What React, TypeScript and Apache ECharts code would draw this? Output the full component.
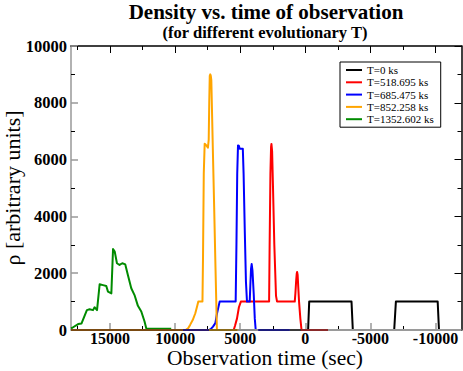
import React, { useEffect, useRef } from "react";
import * as echarts from "echarts";

const FONT = '"Liberation Serif", "Times New Roman", Times, serif';

const seriesNames = ["T=0 ks", "T=518.695 ks", "T=685.475 ks", "T=852.258 ks", "T=1352.602 ks"];
const seriesColors = ["#000000", "#ff0000", "#0000ff", "#ffa500", "#008b00"];

// Observation time (sec) and density for each evolutionary T
const t0Time = [1200, 300, -215, -300, -3550, -3650, -6830, -6960, -10170, -10270, -12000];
const t0Rho = [0, 0, 0, 1000, 1000, 0, 0, 1000, 1000, 0, 0];

const t518Time = [5800, 5500, 5400, 5250, 5100, 4950, 2780, 2740, 2680, 2630, 2600, 2550, 2480, 2380, 2250, 2170, 810, 760, 700, 660, 630, 590, 540, 480, 380, 290, -1750];
const t518Rho = [0, 0, 150, 400, 800, 1000, 1000, 3000, 5500, 6450, 6550, 6300, 5000, 3000, 1200, 1000, 1000, 1300, 1750, 1980, 2040, 1950, 1500, 1000, 400, 0, 0];

const t685Time = [9300, 7400, 7250, 7090, 6910, 6780, 6580, 5350, 5290, 5230, 5170, 5100, 5040, 4800, 4740, 4650, 4560, 4480, 4270, 4220, 4170, 4120, 4060, 3960, 3880, 3810, 1200];
const t685Rho = [0, 0, 40, 120, 240, 590, 1000, 1000, 3000, 5500, 6500, 6480, 6380, 6380, 5500, 3500, 1700, 1000, 1000, 1600, 2150, 2320, 2100, 1250, 400, 0, 0];

const t852Time = [9600, 9200, 9000, 8850, 8650, 8450, 8300, 8220, 7900, 7860, 7800, 7730, 7600, 7480, 7420, 7380, 7340, 7300, 7260, 7220, 7100, 7000, 6900, 6790, 3700];
const t852Rho = [0, 0, 60, 180, 350, 590, 850, 1000, 1000, 2500, 5500, 6560, 6500, 6420, 6700, 8000, 8950, 9000, 8950, 8800, 6300, 4300, 2200, 0, 0];

const t1352Time = [18000, 17900, 17450, 17190, 16780, 16570, 16310, 16190, 16000, 15800, 15540, 15290, 15160, 14900, 14770, 14640, 14470, 14270, 14060, 13830, 13630, 13370, 13120, 12860, 12600, 12350, 12220, 12170, 10300];
const t1352Rho = [60, 80, 210, 230, 700, 730, 700, 800, 700, 1610, 1580, 1550, 1350, 1290, 2850, 2760, 2350, 2290, 2350, 2310, 1940, 1470, 1230, 850, 650, 300, 60, 40, 40];

const seriesTimes = [t0Time, t518Time, t685Time, t852Time, t1352Time];
const seriesRhos = [t0Rho, t518Rho, t685Rho, t852Rho, t1352Rho];

const xMin = -12000;
const xMax = 18000;
const yMin = 0;
const yMax = 10000;
const yStep = 2000;
const xMajorTicks = [15000, 10000, 5000, 0, -5000, -10000];
const xMinorTicks = [17500, 12500, 7500, 2500, -2500, -7500];

// where the colour of the overlapping zero-level lines changes along the bottom axis
const baselineBreaks = [18000, 9400, 7400, 5200, 3600, 1200, 300, -1750, -12000];
const baselineColors = ["#7a4a12", "#2c1a6e", "#8a6a1a", "#8c8c8c", "#1c1c7c", "#3a3a3a", "#8a2a2a", "#9a9a9a"];

const titleText = "Density vs. time of observation";
const subtitleText = "(for different evolutionary T)";
const xName = "Observation time (sec)";
const yName = "ρ [arbitrary units]";

function buildOption() {
  const mainSeries = seriesNames.map((name, i) => ({
    name,
    type: "line",
    xAxisIndex: 0,
    yAxisIndex: 0,
    data: seriesTimes[i].map((t, j) => [t, seriesRhos[i][j]]),
    symbol: "none",
    showSymbol: false,
    lineStyle: { color: seriesColors[i], width: 2, join: "round" },
    itemStyle: { color: seriesColors[i] },
    z: 3,
    silent: true,
  }));
  const baseSeries = baselineColors.map((c, i) => ({
    name: "base" + i,
    type: "line",
    xAxisIndex: 0,
    yAxisIndex: 0,
    data: [
      [baselineBreaks[i], 0],
      [baselineBreaks[i + 1], 0],
    ],
    symbol: "none",
    lineStyle: { color: c, width: 2 },
    z: 4,
    silent: true,
  }));

  const xCommon = {
    type: "value",
    min: xMin,
    max: xMax,
    inverse: true,
    splitLine: { show: false },
  };
  const yCommon = {
    type: "value",
    min: yMin,
    max: yMax,
    interval: yStep,
    splitLine: { show: false },
  };

  return {
    animation: false,
    backgroundColor: "#ffffff",
    grid: { left: 71, right: 1.5, top: 46, bottom: 41, containLabel: false },
    xAxis: [
      {
        ...xCommon,
        position: "bottom",
        axisLine: { show: true, onZero: false, lineStyle: { color: "#999999", width: 1.5 } },
        axisTick: { show: true, inside: true, length: 7, customValues: xMajorTicks, lineStyle: { color: "#999999", width: 1.5 } },
        axisLabel: {
          show: true,
          customValues: xMajorTicks,
          margin: 1.5,
          color: "#000",
          fontFamily: FONT,
          fontWeight: "bold",
          fontSize: 16,
          lineHeight: 13,
          formatter: (v: number) => String(v),
        },
      },
      {
        ...xCommon,
        position: "bottom",
        axisLine: { show: false, onZero: false },
        axisTick: { show: true, inside: true, length: 4, customValues: xMinorTicks, lineStyle: { color: "#000", width: 1 } },
        axisLabel: { show: false },
      },
      {
        ...xCommon,
        position: "top",
        axisLine: { show: true, onZero: false, lineStyle: { color: "#000", width: 1.5 } },
        axisTick: { show: true, inside: true, length: 7, customValues: xMajorTicks, lineStyle: { color: "#000", width: 1 } },
        axisLabel: { show: false },
      },
      {
        ...xCommon,
        position: "top",
        axisLine: { show: false, onZero: false },
        axisTick: { show: true, inside: true, length: 4, customValues: xMinorTicks, lineStyle: { color: "#000", width: 1 } },
        axisLabel: { show: false },
      },
    ],
    yAxis: [
      {
        ...yCommon,
        position: "left",
        axisLine: { show: true, onZero: false, lineStyle: { color: "#999999", width: 1.5 } },
        axisTick: { show: true, inside: true, length: 7, lineStyle: { color: "#999999", width: 1.5 } },
        minorTick: { show: true, splitNumber: 2, length: 4, lineStyle: { color: "#000", width: 1 } },
        axisLabel: {
          margin: 4,
          color: "#000",
          fontFamily: FONT,
          fontWeight: "bold",
          fontSize: 16.5,
          formatter: (v: number) => String(v),
        },
      },
      {
        ...yCommon,
        position: "right",
        axisLine: { show: true, onZero: false, lineStyle: { color: "#000", width: 1.5 } },
        axisTick: { show: true, inside: true, length: 7, lineStyle: { color: "#000", width: 1 } },
        minorTick: { show: true, splitNumber: 2, length: 4, lineStyle: { color: "#000", width: 1 } },
        axisLabel: { show: false },
      },
    ],
    legend: {
      data: seriesNames,
      orient: "vertical",
      left: 340,
      top: 62,
      icon: "rect",
      itemWidth: 16,
      itemHeight: 2,
      itemGap: 0.3,
      backgroundColor: "#ffffff",
      borderColor: "#000000",
      borderWidth: 1,
      borderRadius: 0,
      padding: [2, 7, 2, 6],
      selectedMode: false,
      textStyle: { fontFamily: FONT, fontSize: 11, color: "#000", lineHeight: 12 },
    },
    graphic: [
      {
        type: "text",
        x: 266,
        y: 11.5,
        silent: true,
        style: { text: titleText, fontFamily: FONT, fontSize: 21, fontWeight: "bold", fill: "#000", align: "center", verticalAlign: "middle", lineHeight: 18 },
      },
      {
        type: "text",
        x: 265,
        y: 32,
        silent: true,
        style: { text: subtitleText, fontFamily: FONT, fontSize: 16.5, fontWeight: "bold", fill: "#000", align: "center", verticalAlign: "middle", lineHeight: 14 },
      },
      {
        type: "text",
        x: 265,
        y: 357.5,
        silent: true,
        style: { text: xName, fontFamily: FONT, fontSize: 21.5, fill: "#000", align: "center", verticalAlign: "middle", lineHeight: 18 },
      },
      {
        type: "text",
        x: 12,
        y: 188,
        rotation: Math.PI / 2,
        silent: true,
        style: { text: yName, fontFamily: FONT, fontSize: 22, fill: "#000", align: "center", verticalAlign: "middle", lineHeight: 18 },
      },
    ],
    series: [...mainSeries, ...baseSeries],
  };
}

export default function App() {
  const ref = useRef<HTMLDivElement>(null);
  useEffect(() => {
    if (!ref.current) return;
    const chart = echarts.init(ref.current, undefined, { renderer: "svg" });
    chart.setOption(buildOption() as any);
    return () => chart.dispose();
  }, []);
  return (
    <div
      ref={ref}
      style={{ position: "fixed", left: 0, top: 0, width: 463, height: 371, background: "#ffffff" }}
    />
  );
}
